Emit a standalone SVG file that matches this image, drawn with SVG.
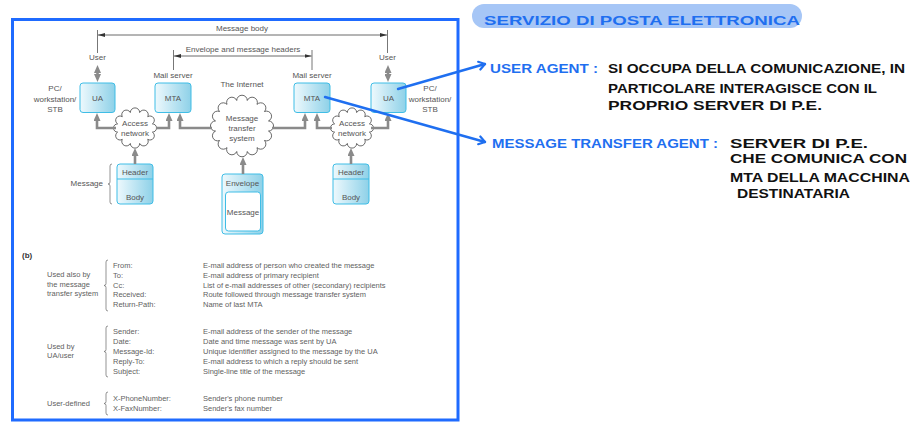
<svg xmlns="http://www.w3.org/2000/svg" width="918" height="425" viewBox="0 0 918 425">
<style>
.t{font-family:"Liberation Sans",Arial,sans-serif;font-size:8px;fill:#555}
.tm{text-anchor:middle}
.te{text-anchor:end}
.tb{font-family:"Liberation Sans",Arial,sans-serif;font-size:7.5px;fill:#5f5f5f}
.box{fill:url(#bx);stroke:#3fbde6;stroke-width:1}
.cloud{fill:#fff;stroke:#444;stroke-width:0.8}
.gc{fill:none;stroke:#8a8a8a;stroke-width:2.6;stroke-linejoin:miter}
.thin{fill:none;stroke:#444;stroke-width:0.8}
.tick{fill:none;stroke:#777;stroke-width:1}
.brace{fill:none;stroke:#666;stroke-width:0.7}
.hw{font-family:"Liberation Sans",Arial,sans-serif;font-weight:bold;font-size:13px}
.blue{fill:#1f6ff0}
.blk{fill:#111}
.bl{fill:none;stroke:#1f6ff0;stroke-width:2.4;stroke-linecap:round}
</style>
<defs>
<linearGradient id="bx" x1="0" y1="0" x2="1" y2="0">
<stop offset="0" stop-color="#eef9fd"/>
<stop offset="1" stop-color="#8ed1e8"/>
</linearGradient>
<marker id="ga" viewBox="0 0 8 7" markerWidth="8" markerHeight="7" refX="2" refY="3.5" orient="auto-start-reverse" markerUnits="userSpaceOnUse">
<path d="M0,0 L8,3.5 L0,7 z" fill="#8a8a8a"/>
</marker>
<marker id="ta" viewBox="0 0 7 4" markerWidth="7" markerHeight="4" refX="7" refY="2" orient="auto-start-reverse" markerUnits="userSpaceOnUse">
<path d="M0,0 L7,2 L0,4 z" fill="#333"/>
</marker>
<marker id="hv" viewBox="0 0 10 10" markerWidth="10" markerHeight="10" refX="8" refY="5" orient="auto" markerUnits="userSpaceOnUse" overflow="visible">
<path d="M2,1 L8,5 L2,9" fill="none" stroke="#1f6ff0" stroke-width="2.2" stroke-linecap="round" stroke-linejoin="round"/>
</marker>
</defs>

<rect x="0" y="0" width="918" height="425" fill="#fff"/>
<rect id="frame" x="12.5" y="19.5" width="445.5" height="400.5" fill="#fff" stroke="#1f6bff" stroke-width="3"/>

<g id="scope-labels">
<path class="tick" d="M97.5,30 V53 M387.5,30 V53 M173.5,50 V70 M312,50 V70"/>
<path class="thin" d="M98,35 H387" marker-start="url(#ta)" marker-end="url(#ta)"/>
<path class="thin" d="M174,56 H311.5" marker-start="url(#ta)" marker-end="url(#ta)"/>
<text class="t tm" x="242" y="31">Message body</text>
<text class="t tm" x="243" y="52">Envelope and message headers</text>
<text class="t tm" x="97.5" y="60">User</text>
<text class="t tm" x="387.5" y="60">User</text>
<text class="t tm" x="173" y="78">Mail server</text>
<text class="t tm" x="312" y="78">Mail server</text>
<text class="t tm" x="242" y="87">The Internet</text>
<text class="t tm" x="55" y="91">PC/</text>
<text class="t tm" x="55" y="102">workstation/</text>
<text class="t tm" x="55" y="112">STB</text>
<text class="t tm" x="430" y="91">PC/</text>
<text class="t tm" x="430" y="102">workstation/</text>
<text class="t tm" x="430" y="112">STB</text>
</g>

<g id="access-net-left">
<path class="cloud" d="M152.39,132.14 A1,1 0 0 1 147.73,139.31 A1,1 0 0 1 139.66,143.46 A1,1 0 0 1 130.34,143.46 A1,1 0 0 1 122.27,139.31 A1,1 0 0 1 117.61,132.14 A1,1 0 0 1 117.61,123.86 A1,1 0 0 1 122.27,116.69 A1,1 0 0 1 130.34,112.54 A1,1 0 0 1 139.66,112.54 A1,1 0 0 1 147.73,116.69 A1,1 0 0 1 152.39,123.86 A1,1 0 0 1 152.39,132.14 Z"/>
<text class="t tm" x="135" y="126">Access</text>
<text class="t tm" x="135" y="136">network</text>
</g>
<g id="internet">
<path class="cloud" d="M268.49,131.07 A1,1 0 0 1 264.44,140.46 A1,1 0 0 1 257.01,147.61 A1,1 0 0 1 247.27,151.51 A1,1 0 0 1 236.73,151.51 A1,1 0 0 1 226.99,147.61 A1,1 0 0 1 219.56,140.46 A1,1 0 0 1 215.51,131.07 A1,1 0 0 1 215.51,120.93 A1,1 0 0 1 219.56,111.54 A1,1 0 0 1 226.99,104.39 A1,1 0 0 1 236.73,100.49 A1,1 0 0 1 247.27,100.49 A1,1 0 0 1 257.01,104.39 A1,1 0 0 1 264.44,111.54 A1,1 0 0 1 268.49,120.93 A1,1 0 0 1 268.49,131.07 Z"/>
<text class="t tm" x="242" y="121">Message</text>
<text class="t tm" x="242" y="131">transfer</text>
<text class="t tm" x="242" y="141">system</text>
</g>
<g id="access-net-right">
<path class="cloud" d="M369.39,132.14 A1,1 0 0 1 364.73,139.31 A1,1 0 0 1 356.66,143.46 A1,1 0 0 1 347.34,143.46 A1,1 0 0 1 339.27,139.31 A1,1 0 0 1 334.61,132.14 A1,1 0 0 1 334.61,123.86 A1,1 0 0 1 339.27,116.69 A1,1 0 0 1 347.34,112.54 A1,1 0 0 1 356.66,112.54 A1,1 0 0 1 364.73,116.69 A1,1 0 0 1 369.39,123.86 A1,1 0 0 1 369.39,132.14 Z"/>
<text class="t tm" x="352" y="126">Access</text>
<text class="t tm" x="352" y="136">network</text>
</g>

<g id="ua-left">
<rect class="box" x="80" y="83" width="35" height="29.5" rx="3"/>
<text class="t tm" x="97.5" y="100.5">UA</text>
</g>
<g id="mta-left">
<rect class="box" x="155" y="83" width="36" height="29.5" rx="3"/>
<text class="t tm" x="173" y="100.5">MTA</text>
</g>
<g id="mta-right">
<rect class="box" x="294" y="83" width="36" height="29.5" rx="3"/>
<text class="t tm" x="312" y="100.5">MTA</text>
</g>
<g id="ua-right">
<rect class="box" x="371" y="83" width="35" height="29.5" rx="3"/>
<text class="t tm" x="388.5" y="100.5">UA</text>
</g>

<g id="message-left">
<rect class="box" x="117" y="164" width="36" height="40" rx="3"/>
<path d="M117,179 H153" stroke="#3fbde6" stroke-width="1"/>
<text class="t tm" x="135" y="175">Header</text>
<text class="t tm" x="135" y="200">Body</text>
<path class="brace" d="M112,164 Q110,164 110,166 V182 Q110,184 108,184 Q110,184 110,186 V202 Q110,204 112,204"/>
<text class="t te" x="103" y="186">Message</text>
</g>
<g id="envelope">
<rect class="box" x="222" y="174" width="41" height="60" rx="3"/>
<rect x="225.5" y="192" width="35" height="39" rx="3" fill="#fff" stroke="#3fbde6" stroke-width="1"/>
<text class="t tm" x="242.5" y="185.5">Envelope</text>
<text class="t tm" x="243" y="215">Message</text>
</g>
<g id="message-right">
<rect class="box" x="333" y="164" width="36" height="40" rx="3"/>
<path d="M333,179 H369" stroke="#3fbde6" stroke-width="1"/>
<text class="t tm" x="351" y="175">Header</text>
<text class="t tm" x="351" y="200">Body</text>
</g>

<g id="connectors">
<path class="gc" d="M116,128 H97 V119" marker-end="url(#ga)"/>
<path class="gc" d="M156,128 H169 V119" marker-end="url(#ga)"/>
<path class="gc" d="M212,128 H180 V119" marker-end="url(#ga)"/>
<path class="gc" d="M272,128 H305 V119" marker-end="url(#ga)"/>
<path class="gc" d="M332,128 H317 V119" marker-end="url(#ga)"/>
<path class="gc" d="M371,128 H388 V119" marker-end="url(#ga)"/>
<path class="gc" d="M135,164 V154" marker-end="url(#ga)"/>
<path class="gc" d="M243,174 V163" marker-end="url(#ga)"/>
<path class="gc" d="M351,164 V154" marker-end="url(#ga)"/>
<path class="gc" d="M97.5,71 V76" marker-start="url(#ga)" marker-end="url(#ga)"/>
<path class="gc" d="M388,71 V76" marker-start="url(#ga)" marker-end="url(#ga)"/>
</g>

<g id="table">
<text x="22" y="258" font-family="Liberation Sans,Arial,sans-serif" font-size="8" font-weight="bold" fill="#333">(b)</text>
<text class="tb" x="47" y="277">Used also by</text>
<text class="tb" x="47" y="286.5">the message</text>
<text class="tb" x="47" y="296">transfer system</text>
<path class="brace" d="M108,260 Q106,260 106,262 V283.5 Q106,285.5 104,285.5 Q106,285.5 106,287.5 V309 Q106,311 108,311"/>
<text class="tb" x="113" y="268">From:</text><text class="tb" x="203" y="268">E-mail address of person who created the message</text>
<text class="tb" x="113" y="277.8">To:</text><text class="tb" x="203" y="277.8">E-mail address of primary recipient</text>
<text class="tb" x="113" y="287.6">Cc:</text><text class="tb" x="203" y="287.6">List of e-mail addresses of other (secondary) recipients</text>
<text class="tb" x="113" y="297.4">Received:</text><text class="tb" x="203" y="297.4">Route followed through message transfer system</text>
<text class="tb" x="113" y="307.2">Return-Path:</text><text class="tb" x="203" y="307.2">Name of last MTA</text>

<text class="tb" x="47" y="349">Used by</text>
<text class="tb" x="47" y="358">UA/user</text>
<path class="brace" d="M108,326 Q106,326 106,328 V349.5 Q106,351.5 104,351.5 Q106,351.5 106,353.5 V375 Q106,377 108,377"/>
<text class="tb" x="113" y="334">Sender:</text><text class="tb" x="203" y="334">E-mail address of the sender of the message</text>
<text class="tb" x="113" y="344">Date:</text><text class="tb" x="203" y="344">Date and time message was sent by UA</text>
<text class="tb" x="113" y="354">Message-Id:</text><text class="tb" x="203" y="354">Unique identifier assigned to the message by the UA</text>
<text class="tb" x="113" y="364">Reply-To:</text><text class="tb" x="203" y="364">E-mail address to which a reply should be sent</text>
<text class="tb" x="113" y="374">Subject:</text><text class="tb" x="203" y="374">Single-line title of the message</text>

<text class="tb" x="47" y="406">User-defined</text>
<path class="brace" d="M108,392 Q106,392 106,394 V401.5 Q106,403.5 104,403.5 Q106,403.5 106,405.5 V413 Q106,415 108,415"/>
<text class="tb" x="113" y="401">X-PhoneNumber:</text><text class="tb" x="203" y="401">Sender's phone number</text>
<text class="tb" x="113" y="411">X-FaxNumber:</text><text class="tb" x="203" y="411">Sender's fax number</text>
</g>

<g id="notes">
<rect x="472" y="4" width="330" height="24" rx="12" fill="#a6c6f6"/>
<text class="hw blue" x="484" y="25" font-size="19" textLength="316" lengthAdjust="spacingAndGlyphs">SERVIZIO DI POSTA ELETTRONICA</text>
<text class="hw blue" x="490" y="73" textLength="108" lengthAdjust="spacingAndGlyphs">USER AGENT :</text>
<text class="hw blk" x="608" y="73" textLength="297" lengthAdjust="spacingAndGlyphs">SI OCCUPA DELLA COMUNICAZIONE, IN</text>
<text class="hw blk" x="608" y="93" textLength="269" lengthAdjust="spacingAndGlyphs">PARTICOLARE INTERAGISCE CON IL</text>
<text class="hw blk" x="608" y="110" textLength="214" lengthAdjust="spacingAndGlyphs">PROPRIO SERVER DI P.E.</text>
<text class="hw blue" x="492" y="148" textLength="226" lengthAdjust="spacingAndGlyphs">MESSAGE TRANSFER AGENT :</text>
<text class="hw blk" x="730" y="148" textLength="138" lengthAdjust="spacingAndGlyphs">SERVER DI P.E.</text>
<text class="hw blk" x="730" y="163" textLength="177" lengthAdjust="spacingAndGlyphs">CHE COMUNICA CON</text>
<text class="hw blk" x="730" y="182" textLength="180" lengthAdjust="spacingAndGlyphs">MTA DELLA MACCHINA</text>
<text class="hw blk" x="737" y="198" textLength="113" lengthAdjust="spacingAndGlyphs">DESTINATARIA</text>
</g>

<g id="note-links">
<path class="bl" d="M398,89 L485,64" marker-end="url(#hv)"/>
<path class="bl" d="M325,97 L485,142" marker-end="url(#hv)"/>
</g>
</svg>
